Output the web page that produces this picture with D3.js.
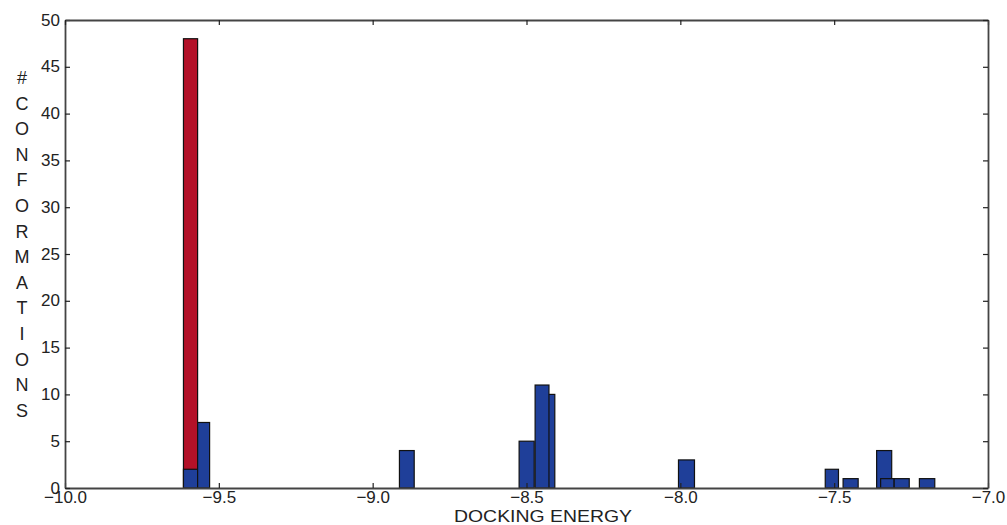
<!DOCTYPE html>
<html>
<head>
    <meta charset="utf-8">
    <title>Docking Energy Histogram</title>
    <script src="https://d3js.org/d3.v7.min.js"></script>
    <style>
        body { margin: 0; background: #fff; }
        text { font-family: "Liberation Sans", Arial, sans-serif; fill: #222; }
    </style>
</head>
<body>
    <div id="chart"></div>

    <script>
        // bar edges (docking energy) and counts, in drawing order
        var redLeft = [-9.615];
        var redRight = [-9.569];
        var redCounts = [48];

        var blueLeft = [-9.615, -9.569, -8.913, -8.524, -8.455, -8.472, -8.006, -7.529, -7.471, -7.362, -7.349, -7.305, -7.223];
        var blueRight = [-9.569, -9.530, -8.865, -8.475, -8.408, -8.427, -7.954, -7.486, -7.422, -7.313, -7.305, -7.256, -7.173];
        var blueCounts = [2, 7, 4, 5, 10, 11, 3, 2, 1, 4, 1, 1, 1];

        var xTicks = [-10.0, -9.5, -9.0, -8.5, -8.0, -7.5, -7.0];
        var yTicks = [0, 5, 10, 15, 20, 25, 30, 35, 40, 45, 50];
        var yTitle = ["#", "C", "O", "N", "F", "O", "R", "M", "A", "T", "I", "O", "N", "S"];
        var xTitle = "DOCKING ENERGY";

        var width = 1007;
        var height = 525;
        var margin = { top: 20, right: 19, bottom: 37, left: 65 };
        var w = width - margin.left - margin.right;
        var h = height - margin.top - margin.bottom;

        var svg = d3.select("#chart")
            .append("svg")
            .attr("width", width)
            .attr("height", height);

        var g = svg.append("g")
            .attr("transform", "translate(" + margin.left + "," + margin.top + ")");

        var x = d3.scaleLinear().domain([-10, -7]).range([0, w]);
        var y = d3.scaleLinear().domain([0, 50]).range([h, 0]);

        function bars(lefts, rights, counts, color) {
            var rows = counts.map(function(c, i) { return { x0: lefts[i], x1: rights[i], n: c }; });
            g.append("g").selectAll("rect")
                .data(rows)
                .enter()
                .append("rect")
                .attr("x", function(d) { return x(d.x0); })
                .attr("y", function(d) { return y(d.n); })
                .attr("width", function(d) { return x(d.x1) - x(d.x0); })
                .attr("height", function(d) { return y(0) - y(d.n); })
                .attr("fill", color)
                .attr("stroke", "#111")
                .attr("stroke-width", 1.2);
        }

        bars(redLeft, redRight, redCounts, "#b31128");
        bars(blueLeft, blueRight, blueCounts, "#1f3f99");

        // axes with inward ticks on all sides
        var fmtX = d3.format(".1f");
        var axBottom = g.append("g")
            .attr("transform", "translate(0," + h + ")")
            .call(d3.axisBottom(x).tickValues(xTicks).tickFormat(fmtX).tickSizeInner(-5).tickSizeOuter(0).tickPadding(4));
        var axLeft = g.append("g")
            .call(d3.axisLeft(y).tickValues(yTicks).tickSizeInner(-5).tickSizeOuter(0).tickPadding(5));
        var axTop = g.append("g")
            .call(d3.axisTop(x).tickValues(xTicks).tickFormat("").tickSizeInner(-5).tickSizeOuter(0));
        var axRight = g.append("g")
            .attr("transform", "translate(" + w + ",0)")
            .call(d3.axisRight(y).tickValues(yTicks).tickFormat("").tickSizeInner(-5).tickSizeOuter(0));

        [axBottom, axLeft, axTop, axRight].forEach(function(a) {
            a.select(".domain").attr("stroke", "#444").attr("stroke-width", 1.8);
            a.selectAll(".tick line").attr("stroke", "#222").attr("stroke-width", 1.2);
            a.selectAll(".tick text").style("font-size", "17px").attr("fill", "#222");
        });
        axBottom.selectAll(".tick text").attr("dy", "0.62em");
        axLeft.selectAll(".tick text").attr("dy", "0.3em");

        // x axis title
        svg.append("text")
            .attr("x", 543)
            .attr("y", 521.5)
            .attr("text-anchor", "middle")
            .attr("textLength", 178)
            .attr("lengthAdjust", "spacingAndGlyphs")
            .style("font-size", "17px")
            .text(xTitle);

        // y axis title, one letter per line
        svg.append("g").selectAll("text")
            .data(yTitle)
            .enter()
            .append("text")
            .attr("x", 22)
            .attr("y", function(d, i) { return 84 + i * 25.6; })
            .attr("text-anchor", "middle")
            .style("font-size", "18px")
            .text(function(d) { return d; });
    </script>
</body>
</html>
